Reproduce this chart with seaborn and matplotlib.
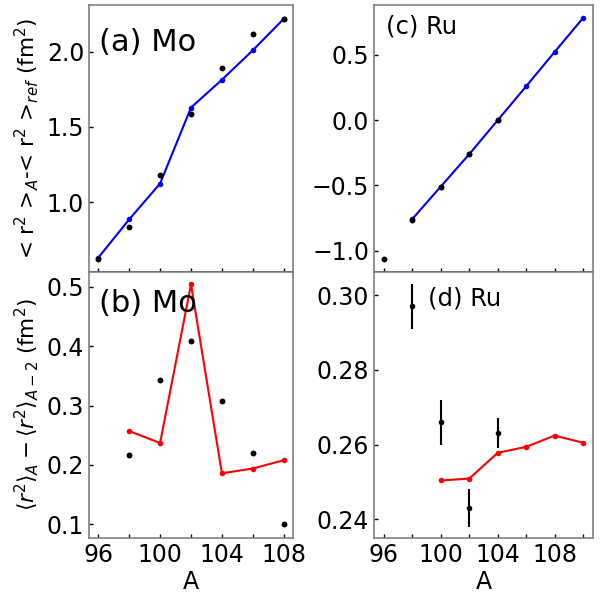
import matplotlib
matplotlib.use("Agg")
import matplotlib.pyplot as plt
import seaborn as sns
import pandas as pd

sns.set_style("white")
plt.rcParams['font.family'] = ['DejaVu Sans']
plt.rcParams['mathtext.fontset'] = 'dejavusans'
plt.rcParams['text.color'] = 'black'
plt.rcParams['axes.labelcolor'] = 'black'
plt.rcParams['xtick.color'] = 'black'
plt.rcParams['ytick.color'] = 'black'

# ---- data ----
# (a) Mo
mo_A_exp = [96, 98, 100, 102, 104, 106, 108]
mo_r2_exp = [0.619, 0.832, 1.178, 1.588, 1.894, 2.117, 2.218]
mo_A_th = [96, 98, 100, 102, 104, 106, 108]
mo_r2_th = [0.630, 0.885, 1.123, 1.628, 1.813, 2.009, 2.218]
# (b) Mo differences
mo_dA_exp = [98, 100, 102, 104, 106, 108]
mo_d_exp = [0.217, 0.343, 0.408, 0.308, 0.220, 0.100]
mo_dA_th = [98, 100, 102, 104, 106, 108]
mo_d_th = [0.257, 0.237, 0.504, 0.186, 0.194, 0.208]
# (c) Ru
ru_A_exp = [96, 98, 100, 102, 104]
ru_r2_exp = [-1.067, -0.766, -0.508, -0.260, 0.0]
ru_A_th = [98, 100, 102, 104, 106, 108, 110]
ru_r2_th = [-0.756, -0.508, -0.260, 0.0, 0.260, 0.523, 0.783]
# (d) Ru differences
ru_dA_exp = [98, 100, 102, 104]
ru_d_exp = [0.297, 0.266, 0.243, 0.263]
ru_d_err = [0.006, 0.006, 0.005, 0.004]
ru_dA_th = [100, 102, 104, 106, 108, 110]
ru_d_th = [0.2504, 0.2509, 0.2578, 0.2594, 0.2624, 0.2605]

fig = plt.figure(figsize=(6.03, 5.94), dpi=100)
axa = fig.add_axes([0.1476, 0.5421, 0.3383, 0.4495])
axb = fig.add_axes([0.1476, 0.0943, 0.3383, 0.4478])
axc = fig.add_axes([0.6202, 0.5421, 0.3632, 0.4495])
axd = fig.add_axes([0.6202, 0.0943, 0.3632, 0.4478])

def line(ax, x, y, color):
    sns.lineplot(x=x, y=y, ax=ax, color=color, lw=1.5, marker='o',
                 markersize=4, markeredgewidth=0, markerfacecolor=color,
                 markeredgecolor=color, zorder=2)

def dots(ax, x, y):
    sns.scatterplot(x=x, y=y, ax=ax, color='black', s=18, linewidth=0, zorder=3)

line(axa, mo_A_th, mo_r2_th, 'blue')
dots(axa, mo_A_exp, mo_r2_exp)
line(axb, mo_dA_th, mo_d_th, 'red')
dots(axb, mo_dA_exp, mo_d_exp)
line(axc, ru_A_th, ru_r2_th, 'blue')
dots(axc, ru_A_exp, ru_r2_exp)
line(axd, ru_dA_th, ru_d_th, 'red')
axd.errorbar(ru_dA_exp, ru_d_exp, yerr=ru_d_err, fmt='o', color='black',
             ms=3, elinewidth=1.5, capsize=0, zorder=3)

for ax in (axa, axb, axc, axd):
    for s in ax.spines.values():
        s.set_color('#808080')
        s.set_linewidth(1.2)
    ax.tick_params(direction='in', length=3, width=1, color='black',
                   labelsize=17, labelcolor='black',
                   left=True, bottom=True, top=False, right=False)
    ax.set_xlabel('')
    ax.set_ylabel('')

for ax in (axa, axc):
    ax.spines['bottom'].set_color('black')
    ax.spines['bottom'].set_zorder(5)

axa.set_xticks(list(range(96, 109, 2)))
axa.set_xticklabels([])
axc.set_xticks(list(range(96, 111, 2)))
axc.set_xticklabels([])
axb.set_xticks(list(range(96, 109, 2)))
axb.set_xticklabels(['96', '', '100', '', '104', '', '108'])
axd.set_xticks(list(range(96, 111, 2)))
axd.set_xticklabels(['96', '', '100', '', '104', '', '108', ''])

axa.set_xlim(95.4, 108.6)
axb.set_xlim(95.4, 108.6)
axc.set_xlim(95.3, 110.7)
axd.set_xlim(95.3, 110.7)

axa.set_yticks([1.0, 1.5, 2.0])
axb.set_yticks([0.1, 0.2, 0.3, 0.4, 0.5])
axc.set_yticks([-1.0, -0.5, 0.0, 0.5])
axd.set_yticks([0.24, 0.26, 0.28, 0.30])
axa.set_ylim(0.535, 2.31)
axb.set_ylim(0.077, 0.525)
axc.set_ylim(-1.163, 0.883)
axd.set_ylim(0.235, 0.3062)

axa.set_ylabel(r'< r$^2$ >$_A$-< r$^2$ >$_{ref}$ (fm$^2$)', fontsize=15.5, labelpad=4)
axb.set_ylabel(r'$\langle r^2\rangle_A - \langle r^2\rangle_{A-2}$ (fm$^2$)', fontsize=15.5, labelpad=4)
axb.set_xlabel('A', fontsize=17, labelpad=2)
axd.set_xlabel('A', fontsize=17, labelpad=2)

axa.text(0.05, 0.86, '(a) Mo', transform=axa.transAxes, fontsize=22, va='center')
axb.text(0.05, 0.883, '(b) Mo', transform=axb.transAxes, fontsize=22, va='center')
axc.text(0.055, 0.921, '(c) Ru', transform=axc.transAxes, fontsize=17.5, va='center')
axd.text(0.247, 0.902, '(d) Ru', transform=axd.transAxes, fontsize=17.5, va='center')

fig.savefig('out.png', dpi=100)
